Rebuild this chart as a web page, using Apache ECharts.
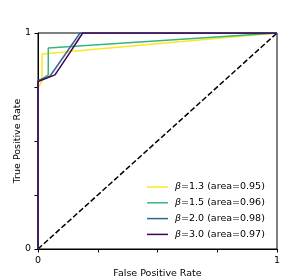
<!DOCTYPE html>
<html><head><meta charset="utf-8">
<script src="https://cdn.jsdelivr.net/npm/echarts@6/dist/echarts.min.js"></script>
<style>html,body{margin:0;padding:0;background:#fff}#c{width:308px;height:280px}</style>
</head><body><div id="c"></div>
<script>
const seriesNames = ['β=1.3 (area=0.95)', 'β=1.5 (area=0.96)', 'β=2.0 (area=0.98)', 'β=3.0 (area=0.97)'];
const betas = ['1.3', '1.5', '2.0', '3.0'];
const areas = ['0.95', '0.96', '0.98', '0.97'];
const colors = ['#fde725', '#35b779', '#31688e', '#440154'];
const fpr13 = [0, 0, 0.017, 0.017, 1];
const tpr13 = [0, 0.745, 0.777, 0.903, 1];
const fpr15 = [0, 0, 0.043, 0.043, 1];
const tpr15 = [0, 0.775, 0.806, 0.93, 1];
const fpr20 = [0, 0, 0.05, 0.176, 1];
const tpr20 = [0, 0.78, 0.80, 1, 1];
const fpr30 = [0, 0, 0.071, 0.134, 0.187, 1];
const tpr30 = [0, 0.775, 0.806, 0.91, 1, 1];
const chanceX = [0, 1];
const chanceY = [0, 1];
const tickLabels = {0: '0', 1: '1'};

const zip = (a, b) => a.map((v, i) => [v, b[i]]);
const curves = [zip(fpr13, tpr13), zip(fpr15, tpr15), zip(fpr20, tpr20), zip(fpr30, tpr30)];
const font = 'DejaVu Sans';

const chart = echarts.init(document.getElementById('c'));
const series = curves.map((d, i) => ({
  name: seriesNames[i], type: 'line', data: d, showSymbol: false, symbol: 'none',
  lineStyle: {color: colors[i], width: 1.5}, itemStyle: {color: colors[i]}, animation: false, z: 3 + i
}));
series.push({
  type: 'line', data: zip(chanceX, chanceY), showSymbol: false, symbol: 'none',
  lineStyle: {color: '#000', width: 1.5, type: [5.5, 2.4]}, animation: false, z: 2
});
const fmtAxis = v => (tickLabels[v] !== undefined ? tickLabels[v] : '');
chart.setOption({
  animation: false,
  backgroundColor: '#fff',
  grid: {left: 38, right: 31, top: 33, bottom: 31, show: true, borderColor: '#000', borderWidth: 1, backgroundColor: 'transparent', containLabel: false, outerBoundsMode: 'none'},
  xAxis: {
    type: 'value', min: 0, max: 1, interval: 0.25,
    name: 'False Positive Rate', nameLocation: 'middle', nameGap: 20, nameMoveOverlap: false,
    nameTextStyle: {fontFamily: font, fontSize: 9.5, color: '#000', verticalAlign: 'top'},
    axisLine: {show: true, lineStyle: {color: '#000', width: 1}},
    axisTick: {show: true, inside: false, length: 3.5, lineStyle: {color: '#000'}},
    axisLabel: {formatter: fmtAxis, fontFamily: font, fontSize: 9.5, color: '#000', margin: 7, showMinLabel: true, showMaxLabel: true},
    splitLine: {show: false}
  },
  yAxis: {
    type: 'value', min: 0, max: 1, interval: 0.25,
    name: 'True Positive Rate', nameLocation: 'middle', nameGap: 15, nameRotate: 90, nameMoveOverlap: false,
    nameTextStyle: {fontFamily: font, fontSize: 9.5, color: '#000'},
    axisLine: {show: true, lineStyle: {color: '#000', width: 1}},
    axisTick: {show: true, inside: false, length: 3.5, lineStyle: {color: '#000'}},
    axisLabel: {formatter: fmtAxis, fontFamily: font, fontSize: 9.5, color: '#000', margin: 7, showMinLabel: true, showMaxLabel: true},
    splitLine: {show: false}
  },
  legend: {
    data: seriesNames, orient: 'vertical', left: 147, top: 181, padding: 0,
    icon: 'rect', itemWidth: 21, itemHeight: 1.5, itemGap: 3.8,
    formatter: name => {
      const i = seriesNames.indexOf(name);
      return '{b|β}{t|=' + betas[i] + ' (area=' + areas[i] + ')}';
    },
    textStyle: {
      fontFamily: font, fontSize: 9.5, color: '#000', lineHeight: 12, padding: [0, 0, 0, 2],
      rich: {
        b: {fontFamily: font, fontSize: 9.5, fontStyle: 'italic', color: '#000', lineHeight: 12},
        t: {fontFamily: font, fontSize: 9.5, color: '#000', lineHeight: 12}
      }
    }
  },
  series: series
});
</script></body></html>
